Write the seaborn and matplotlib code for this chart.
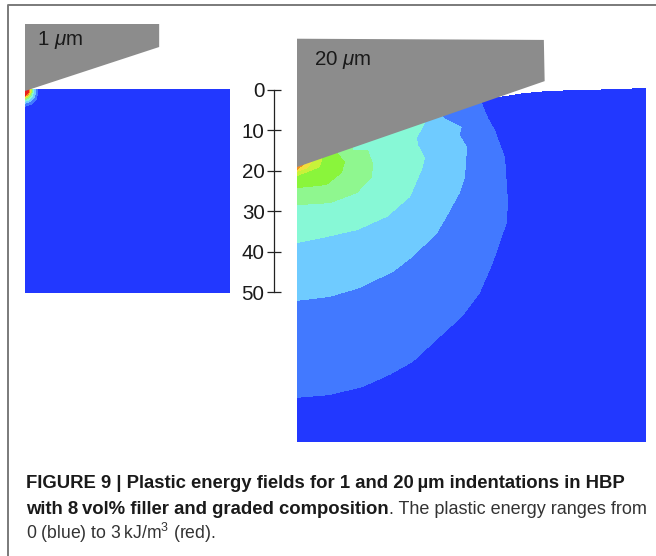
import numpy as np
import matplotlib
matplotlib.use("Agg")
import matplotlib.pyplot as plt
from matplotlib.colors import ListedColormap
from matplotlib.lines import Line2D
from matplotlib.path import Path
import seaborn as sns

sns.set_theme(style="white")
plt.rcParams["font.family"] = ["Liberation Sans", "DejaVu Sans"]
plt.rcParams["mathtext.fontset"] = "custom"
plt.rcParams["mathtext.rm"] = "Liberation Sans"
plt.rcParams["mathtext.it"] = "Liberation Sans:italic"
plt.rcParams["mathtext.bf"] = "Liberation Sans:bold"

W, H = 656, 556

# Colour of each plastic-energy band, low to high
band_colors = ["#2238FF", "#4279FF", "#6FCBFF", "#87F8D6", "#8FF78F",
               "#8AF53B", "#C8F23A", "#F2E03C", "#F09020", "#E8201C"]

# 20 um indentation: band boundaries, (distance from axis, depth) in um
c20_1 = [(45.8, 3.2), (47.3, 6.9), (49.0, 9.9), (51.5, 16.6), (52.2, 27.2), (52.0, 32.7),
         (50.2, 37.9), (48.5, 42.8), (45.3, 50.2), (40.8, 56.2), (35.4, 61.1), (28.7, 67.3),
         (23.0, 70.5), (16.3, 73.5), (8.2, 75.5), (0, 76.2)]
c20_2 = [(36.1, 6.7), (40.8, 9.2), (40.3, 11.1), (42.1, 14.1), (41.6, 21.5), (40.3, 25.5),
         (36.6, 32.2), (34.7, 35.4), (28.7, 41.3), (23.8, 45.0), (15.6, 49.0), (8.2, 51.2), (0, 52.2)]
c20_3 = [(31.7, 8.2), (29.7, 11.9), (30.0, 13.6), (31.7, 16.8), (30.9, 19.8), (28.0, 26.5),
         (22.3, 31.4), (14.9, 34.7), (6.4, 36.6), (0, 37.9)]
c20_4 = [(13.9, 14.9), (17.6, 14.9), (18.8, 18.1), (18.6, 21.5), (14.9, 25.5), (8.2, 28.0), (0, 28.5)]
c20_5 = [(10.1, 15.6), (11.9, 17.8), (11.1, 20.5), (7.4, 23.5), (0, 24.3)]
c20_6 = [(6.2, 17.3), (5.7, 19.1), (2.7, 20.3), (0, 21.3)]
c20_7 = [(3.7, 17.8), (2.7, 19.3), (0, 20.3)]
c20_8 = [(2.0, 18.3), (0, 19.8)]
bands_20 = [(1, c20_1), (2, c20_2), (3, c20_3), (4, c20_4), (5, c20_5), (6, c20_6), (7, c20_7), (8, c20_8)]

# 20 um indentation: free surface and indenter outline, um
surface_x = [0, 49.5, 50.2, 55.9, 62.6, 70.8, 79.2, 86.6]
surface_y = [-0.5, 1.7, 1.7, 0.8, 0.2, 0.0, -0.25, -0.5]
wedge20_x = [0, 61.1, 61.3, 0]
wedge20_y = [-12.7, -12.4, -2.2, 19.06]

# 1 um indentation: band boundaries and indenter outline, in panel units
c1_1 = [(13, 3), (12, 10), (8, 15), (0, 18)]
c1_2 = [(11, 3), (10, 8), (6, 12.5), (0, 15)]
c1_3 = [(9, 3), (8, 7), (5, 11), (0, 13)]
c1_4 = [(8, 2), (7, 6), (4, 9.5), (0, 11.5)]
c1_6 = [(7, 2), (6, 5), (3, 8.5), (0, 10)]
c1_7 = [(6, 2), (5, 5), (3, 7.5), (0, 9)]
c1_8 = [(5, 2), (4, 5), (2, 7), (0, 8)]
c1_9 = [(4, 2), (3, 5), (1, 6.5), (0, 7)]
bands_1 = [(1, c1_1), (2, c1_2), (3, c1_3), (4, c1_4), (6, c1_6), (7, c1_7), (8, c1_8), (9, c1_9)]
wedge1_x = [0, 134.5, 134.5, 0]
wedge1_y = [-65, -65, -42, 2]

# Depth scale
depth_ticks = [0, 10, 20, 30, 40, 50]

# Caption
caption_1 = "FIGURE 9 | Plastic energy fields for 1 and 20\u2009µm indentations in HBP"
caption_2b = "with 8\u2009vol% filler and graded composition"
caption_2r = ". The plastic energy ranges from"
caption_3 = "0 (blue) to 3\u2009kJ/m$^3$ (red)."


def px_axes(fig, x0, y0, x1, y1):
    return fig.add_axes([x0 / W, 1 - y1 / H, (x1 - x0) / W, (y1 - y0) / H])


def field(nx, ny, dx, y0, bands):
    xs = (np.arange(nx) + 0.5) * dx
    ys = (np.arange(ny) + 0.5) * dx + y0
    X, Y = np.meshgrid(xs, ys)
    pts = np.column_stack([X.ravel(), Y.ravel()])
    Z = np.zeros(X.shape)
    for level, contour in bands:
        poly = [(contour[0][0], -40)] + contour + [(-1, contour[-1][1]), (-1, -40)]
        Z[Path(poly).contains_points(pts).reshape(X.shape)] = level
    return X, Y, Z


fig = plt.figure(figsize=(W / 100, H / 100), dpi=100, facecolor="white")
cmap = ListedColormap(band_colors)

# Page furniture and caption
bg = px_axes(fig, 0, 0, W, H)
bg.set_xlim(0, W)
bg.set_ylim(H, 0)
bg.axis("off")
bg.add_line(Line2D([7.5, 7.5, W], [H, 5, 5], color="#7A7A7A", lw=1.4))
bg.text(26, 488, caption_1, fontsize=13.3, fontweight="bold", color="#1a1a1a", va="baseline")
t2 = bg.text(26, 514, caption_2b, fontsize=13.3, fontweight="bold", color="#1a1a1a", va="baseline")
fig.canvas.draw()
end = t2.get_window_extent().x1
bg.text(end, 514, caption_2r, fontsize=13.0, color="#333333", va="baseline")
bg.text(26, 539, caption_3, fontsize=12.7, color="#333333", va="baseline")

# Left panel: 1 um
ax1 = px_axes(fig, 25, 89, 229.5, 293)
X, Y, Z = field(205, 204, 1.0, 0.0, bands_1)
sns.heatmap(Z, ax=ax1, cmap=cmap, vmin=-0.5, vmax=9.5, cbar=False,
            xticklabels=False, yticklabels=False, rasterized=True)
ax1.fill(wedge1_x, wedge1_y, color="#8C8C8C", lw=0, clip_on=False, zorder=5)
ax1.text(12, -49, "1 $\\mu$m", fontsize=14.8, color="#1a1a1a", va="center", zorder=6, clip_on=False)

# Right panel: 20 um
CELL = 1 / 4.04
Y0 = -0.5
ax2 = px_axes(fig, 297, 88, 646, 442)
X, Y, Z = field(349, 354, CELL, Y0, bands_20)
mask = Y < np.interp(X, surface_x, surface_y)
sns.heatmap(Z, ax=ax2, mask=mask, cmap=cmap, vmin=-0.5, vmax=9.5, cbar=False,
            xticklabels=False, yticklabels=False, rasterized=True)
ax2.fill(np.array(wedge20_x) / CELL, (np.array(wedge20_y) - Y0) / CELL,
         color="#8C8C8C", lw=0, clip_on=False, zorder=5)
ax2.text(17, -28, "20 $\\mu$m", fontsize=14.8, color="#1a1a1a", va="center", zorder=6, clip_on=False)

# Depth scale
sc = px_axes(fig, 274, 90, 275, 292)
sc.patch.set_alpha(0)
sc.set_ylim(50, 0)
sc.set_xticks([])
sc.set_yticks(depth_ticks)
sc.set_yticklabels([str(v) for v in depth_ticks], fontsize=14.8, color="#1a1a1a")
sc.tick_params(axis="y", left=True, direction="inout", length=10.5, width=0.9, color="#222222", pad=1.5)
for name, s in sc.spines.items():
    s.set_visible(name == "left")
    s.set_color("#222222")
    s.set_linewidth(0.9)

fig.savefig("out.png", dpi=100)
